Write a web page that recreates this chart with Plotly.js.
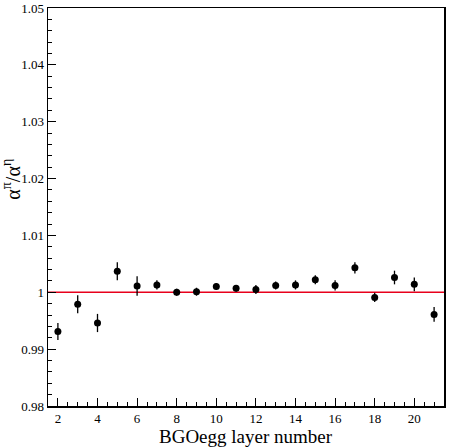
<!DOCTYPE html>
<html><head><meta charset="utf-8">
<script src="https://cdn.plot.ly/plotly-3.0.1.min.js"></script>
<style>html,body{margin:0;padding:0;background:#fff}#chart{width:450px;height:448px}</style>
</head><body><div id="chart"></div>
<script>
const layers = [2,3,4,5,6,7,8,9,10,11,12,13,14,15,16,17,18,19,20,21];
const ratio  = [0.9931,0.9979,0.9946,1.0037,1.0011,1.0013,1.0000,1.0001,1.0010,1.0007,1.0005,1.0012,1.0013,1.0022,1.0012,1.0043,0.9991,1.0026,1.0014,0.9961];
const ratioErr = [0.0015,0.0016,0.0016,0.0016,0.0017,0.0008,0.0006,0.0007,0.0006,0.0006,0.0008,0.0007,0.0008,0.0008,0.0009,0.0010,0.0008,0.0012,0.0012,0.0013];
const refLineX = [1.5, 21.5];
const refLineY = [1, 1];
const yTickVals = [0.98,0.99,1,1.01,1.02,1.03,1.04,1.05];
const yTickText = ["0.98","0.99","1","1.01","1.02","1.03","1.04","1.05"];
const xTickVals = [2,4,6,8,10,12,14,16,18,20];
const xTickText = ["2","4","6","8","10","12","14","16","18","20"];

const font = "Liberation Serif";
const traces = [
  {x: refLineX, y: refLineY, mode:'lines', line:{color:'#e8001c', width:1.5}, hoverinfo:'skip'},
  {x: layers, y: ratio, mode:'markers', type:'scatter',
   marker:{color:'#000', size:7},
   error_y:{type:'data', array: ratioErr, visible:true, color:'#000', thickness:1.3, width:0}}
];
const layout = {
  width:450, height:448, showlegend:false,
  margin:{l:48, r:6, t:8, b:42},
  paper_bgcolor:'#fff', plot_bgcolor:'#fff',
  font:{family:font, color:'#000', size:13},
  xaxis:{range:[1.5,21.5], showgrid:false, zeroline:false,
    showline:true, mirror:true, linecolor:'#000', linewidth:1.5,
    ticks:'inside', ticklen:8, tickwidth:1, tickcolor:'#000',
    tickvals:xTickVals, ticktext:xTickText, tickfont:{family:font,size:13,color:'#000'},
    minor:{dtick:0.5, tick0:0, ticks:'inside', ticklen:4, tickwidth:1, tickcolor:'#000', showgrid:false}},
  yaxis:{range:[0.98,1.05], showgrid:false, zeroline:false,
    showline:true, mirror:true, linecolor:'#000', linewidth:1.5,
    ticks:'inside', ticklen:8, tickwidth:1, tickcolor:'#000',
    tickvals:yTickVals, ticktext:yTickText, tickfont:{family:font,size:13,color:'#000'},
    minor:{dtick:0.002, tick0:0.98, ticks:'inside', ticklen:4, tickwidth:1, tickcolor:'#000', showgrid:false}},
  annotations:[
    {text:'α<sup>π</sup>/α<sup>η</sup>', textangle:-90, xref:'paper', yref:'paper',
     x:-0.092, y:0.57, xanchor:'center', yanchor:'middle', showarrow:false,
     font:{family:font, size:20, color:'#000'}},
    {text:'BGOegg layer number', xref:'paper', yref:'paper',
     x:0.5, y:-0.077, xanchor:'center', yanchor:'middle', showarrow:false,
     font:{family:font, size:19, color:'#000'}}
  ]
};
Plotly.newPlot('chart', traces, layout, {staticPlot:true});
</script></body></html>
